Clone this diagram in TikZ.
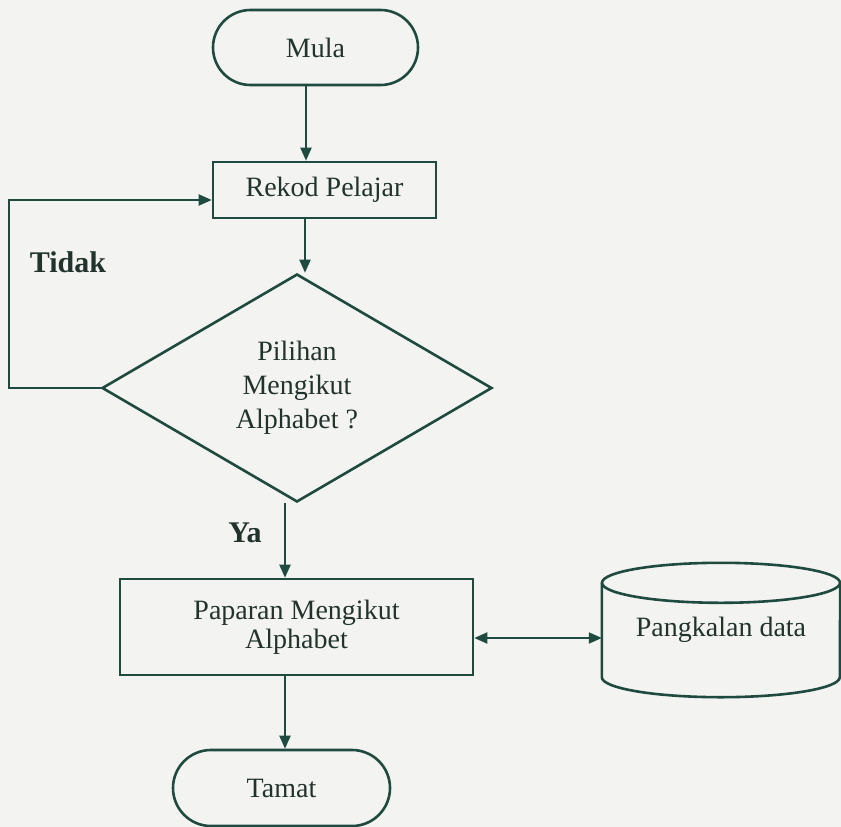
\documentclass[tikz,border=0pt]{standalone}
\usepackage{fontspec}
\setmainfont{Liberation Serif}
\usetikzlibrary{shapes.geometric,shapes.misc,arrows.meta}
\definecolor{ink}{HTML}{1F4A40}
\definecolor{txt}{HTML}{22332E}
\definecolor{paper}{HTML}{F3F3F1}
\begin{document}
\begin{tikzpicture}[x=1pt,y=1pt,
  every node/.style={text=txt,font=\fontsize{28}{34}\selectfont,align=center,inner sep=0pt},
  line/.style={draw=ink,line width=2.6pt},
  arr/.style={draw=ink,line width=2pt,-{Triangle[length=13pt,width=11pt]}},
  darr/.style={draw=ink,line width=2pt,{Triangle[length=13pt,width=11pt]}-{Triangle[length=13pt,width=11pt]}},
  term/.style={line,rounded rectangle},
  proc/.style={line,rectangle},
  decision/.style={line,diamond},
  lbl/.style={font=\fontsize{30}{34}\selectfont\bfseries}]
  % page
  \fill[paper] (0,0) rectangle (841,-827);
  \useasboundingbox (0,0) rectangle (841,-827);

  % nodes
  \node[term,minimum width=205pt,minimum height=75pt] (mula) at (315.5,-47.5) {Mula};
  \node[proc,minimum width=223pt,minimum height=56pt] (rekod) at (324.5,-190) {Rekod Pelajar};
  \node[decision,minimum width=390pt,minimum height=228pt,aspect=1.71] (dec) at (297,-388)
       {Pilihan\\Mengikut\\Alphabet ?};
  \node[proc,minimum width=353pt,minimum height=96pt,font=\fontsize{28}{29}\selectfont] (pap) at (296.5,-627)
       {Paparan Mengikut\\Alphabet};
  \node[minimum width=238pt,minimum height=94pt] (db) at (721,-630) {Pangkalan data};
  \node[term,minimum width=217pt,minimum height=76pt] (tamat) at (281.5,-788) {Tamat};

  % database cylinder around its text node
  \draw[line] (db.north west) -- (db.south west)
     arc[start angle=180,end angle=360,x radius=119pt,y radius=20pt]
     -- (db.north east);
  \draw[line] (db.north) ellipse[x radius=119pt,y radius=20pt];

  % labels
  \node[lbl] (tidak) at (68,-262) {Tidak};
  \node[lbl] (ya) at (245,-533) {Ya};

  % connector guides
  \coordinate (xa) at (306,0);
  \coordinate (xb) at (305,0);
  \coordinate (xc) at (285,0);
  \coordinate (yd) at (0,-638);
  \coordinate (loopx) at (9,0);

  % connectors
  \draw[arr] (mula.south -| xa) -- (rekod.north -| xa);
  \draw[arr] (rekod.south -| xb) -- (dec.north -| xb);
  \draw[arr] (dec.west) -- (dec.west -| loopx) |- ([yshift=-10pt]rekod.west);
  \draw[arr] (dec.south -| xc) -- (pap.north -| xc);
  \draw[arr] (pap.south -| xc) -- (tamat.north -| xc);
  \draw[darr] (pap.east |- yd) -- (db.west |- yd);
\end{tikzpicture}
\end{document}
